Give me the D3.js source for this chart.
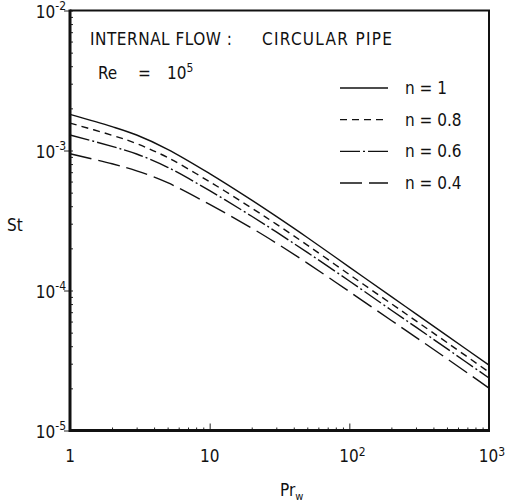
<!DOCTYPE html>
<html>
<head>
<meta charset="utf-8">
<script src="https://cdn.jsdelivr.net/npm/d3@7"></script>
<style>
  body { margin: 0; background: #fff; }
  svg text { font-family: "Liberation Sans Narrow", "DejaVu Sans Condensed", "Liberation Sans", sans-serif; fill: #111; }
</style>
</head>
<body>
<div id="chart"></div>
<script>
// Prandtl numbers the curves were read at
var prValues = [1, 2, 3, 5, 10, 20, 30, 50, 100, 200, 300, 500, 1000];

// Stanton number for each exponent n
var stN10 = [1.81e-3, 1.48e-3, 1.29e-3, 1.02e-3, 6.84e-4, 4.42e-4, 3.38e-4, 2.39e-4, 1.47e-4, 9.04e-5, 6.81e-5, 4.76e-5, 2.93e-5];
var stN08 = [1.57e-3, 1.285e-3, 1.12e-3, 8.91e-4, 5.98e-4, 3.88e-4, 2.98e-4, 2.11e-4, 1.30e-4, 8.04e-5, 6.07e-5, 4.25e-5, 2.61e-5];
var stN06 = [1.29e-3, 1.07e-3, 9.44e-4, 7.59e-4, 5.16e-4, 3.39e-4, 2.62e-4, 1.87e-4, 1.17e-4, 7.23e-5, 5.47e-5, 3.84e-5, 2.37e-5];
var stN04 = [9.48e-4, 8.04e-4, 7.16e-4, 5.89e-4, 4.12e-4, 2.79e-4, 2.18e-4, 1.57e-4, 9.82e-5, 6.11e-5, 4.63e-5, 3.26e-5, 2.01e-5];

var seriesNames = ["n = 1", "n = 0.8", "n = 0.6", "n = 0.4"];
var dashes = [null, "7,5", "20,3,2,3", "22,7"];

var xTicks = [1, 10, 100, 1000];
var xTickLabels = [["1", ""], ["10", ""], ["10", "2"], ["10", "3"]];
var yTicks = [1e-5, 1e-4, 1e-3, 1e-2];
var yTickLabels = [["10", "-5"], ["10", "-4"], ["10", "-3"], ["10", "-2"]];

function drawChart() {
    var width = 506, height = 502;
    var plotLeft = 70, plotRight = 489, plotTop = 10.5, plotBottom = 430.5;

    var svg = d3.select("#chart").append("svg")
        .attr("width", width)
        .attr("height", height);

    var x = d3.scaleLog().domain([1, 1000]).range([plotLeft, plotRight]);
    var y = d3.scaleLog().domain([1e-5, 1e-2]).range([plotBottom, plotTop]);

    // minor ticks inside the frame, decades a bit longer
    svg.append("g")
        .attr("transform", "translate(0," + plotBottom + ")")
        .call(d3.axisTop(x).tickValues(x.ticks()).tickSizeOuter(0).tickFormat(""))
        .call(function (g) {
            g.select(".domain").remove();
            g.selectAll(".tick line")
                .attr("y2", function (d) { return xTicks.indexOf(d) >= 0 ? -7 : -3; })
                .attr("stroke", "#222");
        });

    svg.append("g")
        .attr("transform", "translate(" + plotLeft + ",0)")
        .call(d3.axisRight(y).tickValues(y.ticks()).tickSizeOuter(0).tickFormat(""))
        .call(function (g) {
            g.select(".domain").remove();
            g.selectAll(".tick line")
                .attr("x1", function (d) { return yTicks.indexOf(d) >= 0 ? -6 : 0; })
                .attr("x2", 3)
                .attr("stroke", "#222");
        });

    // frame
    svg.append("line").attr("x1", plotLeft).attr("x2", plotLeft).attr("y1", plotTop - 1).attr("y2", plotBottom + 1.5)
        .attr("stroke", "#111").attr("stroke-width", 3);
    svg.append("line").attr("x1", plotLeft).attr("x2", plotRight + 1).attr("y1", plotBottom).attr("y2", plotBottom)
        .attr("stroke", "#111").attr("stroke-width", 3);
    svg.append("line").attr("x1", plotLeft).attr("x2", plotRight + 1).attr("y1", plotTop).attr("y2", plotTop)
        .attr("stroke", "#111").attr("stroke-width", 2);
    svg.append("line").attr("x1", plotRight).attr("x2", plotRight).attr("y1", plotTop).attr("y2", plotBottom)
        .attr("stroke", "#111").attr("stroke-width", 2);

    // tick labels
    xTicks.forEach(function (d, i) {
        var t = svg.append("text")
            .attr("x", x(d) - (xTickLabels[i][1] ? -3 : 0))
            .attr("y", 462)
            .attr("text-anchor", "middle")
            .style("font-size", "17px");
        t.append("tspan").text(xTickLabels[i][0]);
        if (xTickLabels[i][1]) {
            t.append("tspan").attr("dy", -6).style("font-size", "12px").text(xTickLabels[i][1]);
        }
    });
    yTicks.forEach(function (d, i) {
        var t = svg.append("text")
            .attr("x", 66)
            .attr("y", y(d) + 7)
            .attr("text-anchor", "end")
            .style("font-size", "17px");
        t.append("tspan").text(yTickLabels[i][0]);
        t.append("tspan").attr("dy", -8).style("font-size", "12px").text(yTickLabels[i][1]);
    });

    // axis titles
    svg.append("text").attr("x", 7).attr("y", 231).style("font-size", "17px").text("St");
    var xt = svg.append("text").attr("x", 280).attr("y", 496).style("font-size", "17px");
    xt.append("tspan").text("Pr");
    xt.append("tspan").attr("dy", 4).style("font-size", "11px").text("w");

    // title text
    svg.append("text").attr("x", 90).attr("y", 45).style("font-size", "17px")
        .attr("textLength", 142).attr("lengthAdjust", "spacing")
        .text("INTERNAL FLOW :");
    svg.append("text").attr("x", 262).attr("y", 45).style("font-size", "17px")
        .attr("textLength", 130).attr("lengthAdjust", "spacing")
        .text("CIRCULAR PIPE");
    var re = svg.append("text").attr("x", 98).attr("y", 79).style("font-size", "17px");
    re.append("tspan").text("Re");
    re.append("tspan").attr("x", 138).text("=");
    re.append("tspan").attr("x", 167).text("10");
    re.append("tspan").attr("dy", -7).style("font-size", "12px").text("5");

    // curves
    var allSeries = [stN10, stN08, stN06, stN04];
    var line = d3.line()
        .curve(d3.curveCatmullRom.alpha(0.5))
        .x(function (d) { return x(d[0]); })
        .y(function (d) { return y(d[1]); });

    allSeries.forEach(function (vals, i) {
        var pts = prValues.map(function (p, j) { return [p, vals[j]]; });
        svg.append("path")
            .datum(pts)
            .attr("d", line)
            .attr("fill", "none")
            .attr("stroke", "#111")
            .attr("stroke-width", 1.4)
            .attr("stroke-dasharray", dashes[i]);
    });

    // legend
    var legendY = d3.scalePoint().domain(seriesNames).range([88, 183]);
    seriesNames.forEach(function (name, i) {
        svg.append("line")
            .attr("x1", 340).attr("x2", 388)
            .attr("y1", legendY(name)).attr("y2", legendY(name))
            .attr("stroke", "#111")
            .attr("stroke-width", 1.4)
            .attr("stroke-dasharray", dashes[i]);
        svg.append("text")
            .attr("x", 405)
            .attr("y", legendY(name) + 6)
            .style("font-size", "17px")
            .text(name);
    });
}

drawChart();
</script>
</body>
</html>
